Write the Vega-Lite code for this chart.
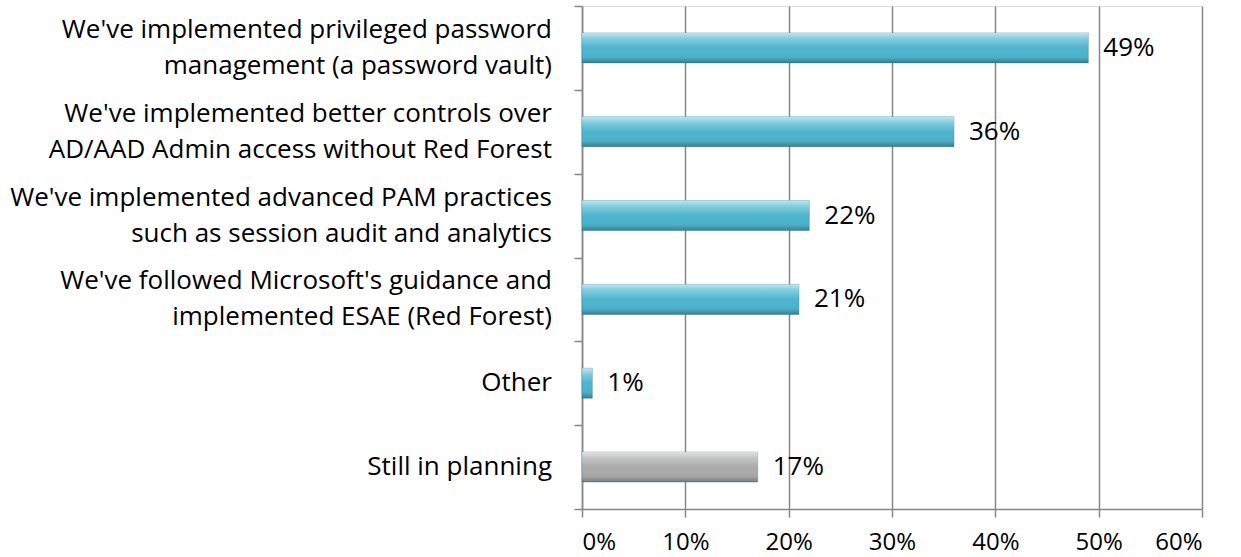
{
  "$schema": "https://vega.github.io/schema/vega-lite/v6.json",
  "autosize": {"type": "none"},
  "width": 620,
  "height": 503,
  "padding": {"left": 582, "top": 6, "right": 39, "bottom": 48},
  "background": "white",
  "data": {
    "values": [
      {"label": "We've implemented privileged password|management (a password vault)", "value": 0.49, "group": "done"},
      {"label": "We've implemented better controls over|AD/AAD Admin access without Red Forest", "value": 0.36, "group": "done"},
      {"label": "We've implemented advanced PAM practices|such as session audit and analytics", "value": 0.22, "group": "done"},
      {"label": "We've followed Microsoft's guidance and|implemented ESAE (Red Forest)", "value": 0.21, "group": "done"},
      {"label": "Other ", "value": 0.01, "group": "done"},
      {"label": "Still in planning", "value": 0.17, "group": "planning"}
    ]
  },
  "encoding": {
    "y": {
      "field": "label",
      "type": "nominal",
      "sort": null,
      "scale": {"paddingInner": 0, "paddingOuter": 0},
      "axis": {
        "title": null,
        "labels": false,
        "tickBand": "extent",
        "tickSize": 8,
        "tickColor": "#868686",
        "domainColor": "#868686",
        "tickWidth": 1.5,
        "domainWidth": 1.5
      }
    },
    "x": {
      "field": "value",
      "type": "quantitative",
      "scale": {"domain": [0, 0.6], "nice": false},
      "axis": {
        "title": null,
        "format": ".0%",
        "values": [0, 0.1, 0.2, 0.3, 0.4, 0.5, 0.6],
        "labelFont": "Open Sans",
        "labelFontSize": 24,
        "labelColor": "#000000",
        "labelPadding": 13,
        "tickSize": 8,
        "tickColor": "#868686",
        "domainColor": "#868686",
        "gridColor": "#868686",
        "gridWidth": 1.5,
        "tickWidth": 1.5,
        "domainWidth": 1.5,
        "grid": true
      }
    }
  },
  "layer": [
    {
      "mark": {"type": "bar", "size": 30, "stroke": "#3a8aa0", "strokeOpacity": 0.4, "strokeWidth": 1},
      "encoding": {
        "color": {
          "field": "group",
          "type": "nominal",
          "scale": {"domain": ["done", "planning"], "range": ["#4DB5CE", "#ABABAB"]},
          "legend": null
        }
      }
    },
    {
      "mark": {
        "type": "bar",
        "size": 30,
        "color": {
          "gradient": "linear",
          "x1": 0, "y1": 0, "x2": 0, "y2": 1,
          "stops": [
            {"offset": 0, "color": "rgba(255,255,255,0.65)"},
            {"offset": 0.2, "color": "rgba(255,255,255,0.3)"},
            {"offset": 0.5, "color": "rgba(255,255,255,0.0)"},
            {"offset": 0.82, "color": "rgba(0,0,0,0.04)"},
            {"offset": 1, "color": "rgba(0,0,0,0.3)"}
          ]
        }
      },
      "encoding": {}
    },
    {
      "mark": {"type": "text", "align": "left", "baseline": "middle", "dx": 15, "font": "Open Sans", "fontSize": 26, "color": "#000000"},
      "encoding": {
        "text": {"field": "value", "type": "quantitative", "format": ".0%"}
      }
    },
    {
      "transform": [{"filter": "indexof(datum.label, '|') >= 0"}],
      "mark": {"type": "text", "align": "right", "baseline": "middle", "dx": -30, "dy": -18, "lineBreak": "|", "lineHeight": 36, "font": "Open Sans", "fontSize": 26, "color": "#000000"},
      "encoding": {
        "x": {"datum": 0},
        "text": {"field": "label", "type": "nominal"}
      }
    },
    {
      "transform": [{"filter": "indexof(datum.label, '|') < 0"}],
      "mark": {"type": "text", "align": "right", "baseline": "middle", "dx": -30, "font": "Open Sans", "fontSize": 26, "color": "#000000"},
      "encoding": {
        "x": {"datum": 0},
        "text": {"field": "label", "type": "nominal"}
      }
    }
  ]
}
